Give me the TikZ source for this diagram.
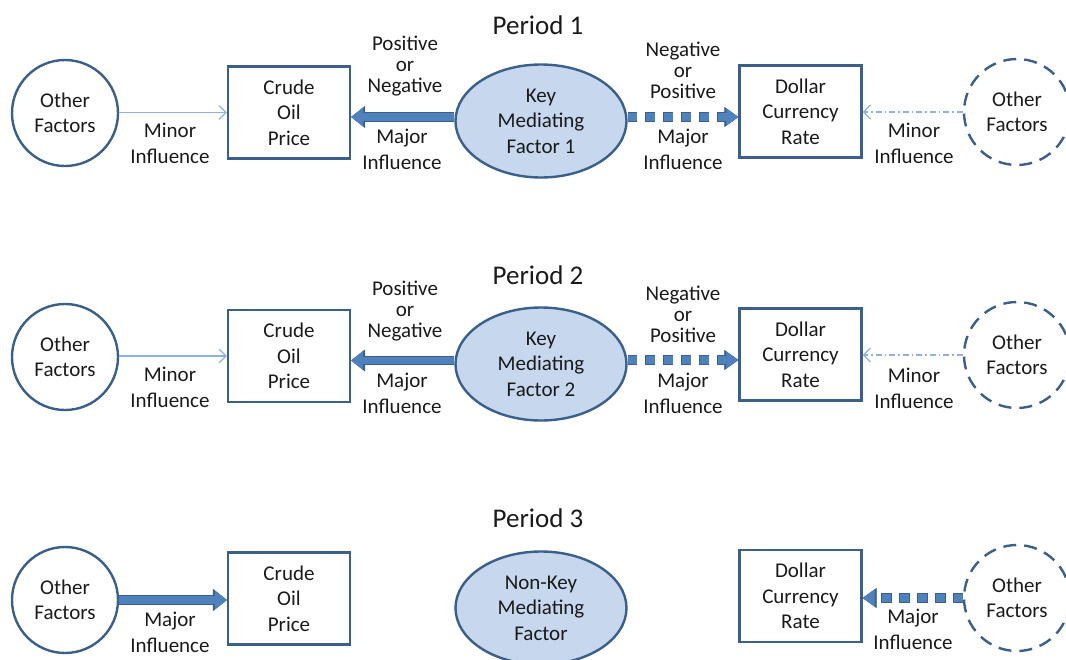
\documentclass[tikz,border=0pt]{standalone}
\usepackage{fontspec}
\setmainfont{Carlito}
\usetikzlibrary{arrows.meta,shapes.geometric,calc}
\definecolor{dk}{HTML}{3A5F8B}
\definecolor{mid}{HTML}{4F81BD}
\definecolor{lt}{HTML}{C6D7EE}
\definecolor{thin}{HTML}{8DB3E2}
\definecolor{txt}{HTML}{1A1A1A}
\begin{document}
\begin{tikzpicture}[x=1pt,y=-1pt,
 every node/.style={text=txt, font=\fontsize{21}{25.5}\selectfont, align=center, inner sep=0pt},
 factor/.style={circle, draw=dk, line width=2.4pt, minimum size=106pt},
 dfactor/.style={factor, dash pattern=on 13pt off 8pt},
 box/.style={rectangle, draw=dk, line width=2.2pt, minimum width=122pt, minimum height=92pt},
 med/.style={ellipse, draw=dk, fill=lt, line width=2.4pt, minimum width=171pt, minimum height=113pt},
 ptitle/.style={font=\fontsize{27}{30}\selectfont},
 lab/.style={font=\fontsize{21}{26}\selectfont},
 labs/.style={font=\fontsize{21}{21}\selectfont},
 minor/.style={draw=thin, line width=1.3pt, -{Straight Barb[length=7pt,width=14pt,line width=1.3pt]}},
 minordd/.style={minor, dash pattern=on 6pt off 3pt on 1.5pt off 3pt},
 major/.style={preaction={draw=dk, line width=9.5pt, -{Triangle[length=14pt,width=22pt,line width=0.5pt]}},
   draw=mid, line width=7.5pt, -{Triangle[length=12pt,width=19pt,line width=0.5pt]}},
 majord/.style={preaction={draw=dk, line width=9.5pt, dash pattern=on 10.5pt off 7.5pt, dash phase=0.75pt, -{Triangle[length=14pt,width=20pt,line width=0.5pt]}},
   draw=mid, line width=7.5pt, dash pattern=on 9pt off 9pt, -{Triangle[length=12pt,width=17pt,line width=0.5pt]}},
]
\useasboundingbox (0,0) rectangle (1066,659);

% ---------------- Period 1 ----------------
\node[ptitle] (t1) at (538,25) {Period 1};
\node[factor] (oa1) at (65,113) {Other\\Factors};
\node[box] (crude1) at (289,112.5) {Crude\\Oil\\Price};
\node[med] (key1) at (541,121) {Key\\Mediating\\Factor 1};
\node[box] (dollar1) at (800.5,111.5) {Dollar\\Currency\\Rate};
\node[dfactor] (ob1) at (1017,112) {Other\\Factors};
\draw[minor] (oa1.east |- crude1.west) -- (crude1.west);
\draw[major] ([yshift=-4.5pt]crude1.east -| key1.west) -- ([yshift=-4.5pt]crude1.east);
\draw[majord] ([yshift=-5.5pt]dollar1.west -| key1.east) -- ([yshift=-5.5pt]dollar1.west);
\draw[minordd] (ob1.west) -- (ob1.west -| dollar1.east);
\node[lab] (mi1a) at (170,143) {Minor\\Influence};
\node[labs] (pn1) at (405,66) {Positive\\or\\Negative};
\node[lab] (ma1a) at (402,149) {Major\\Influence};
\node[labs] (np1) at (683,70) {Negative\\or\\Positive};
\node[lab] (ma1b) at (683,149) {Major\\Influence};
\node[lab] (mi1b) at (914,143.5) {Minor\\Influence};

% ---------------- Period 2 ----------------
\node[ptitle] (t2) at (538,275) {Period 2};
\node[factor] (oa2) at (65,357) {Other\\Factors};
\node[box] (crude2) at (289,356) {Crude\\Oil\\Price};
\node[med] (key2) at (541,364) {Key\\Mediating\\Factor 2};
\node[box] (dollar2) at (800.5,354.5) {Dollar\\Currency\\Rate};
\node[dfactor] (ob2) at (1017,355) {Other\\Factors};
\draw[minor] (oa2.east |- crude2.west) -- (crude2.west);
\draw[major] ([yshift=-4.5pt]crude2.east -| key2.west) -- ([yshift=-4.5pt]crude2.east);
\draw[majord] ([yshift=-5.5pt]dollar2.west -| key2.east) -- ([yshift=-5.5pt]dollar2.west);
\draw[minordd] (ob2.west) -- (ob2.west -| dollar2.east);
\node[lab] (mi2a) at (170,387) {Minor\\Influence};
\node[labs] (pn2) at (405,311) {Positive\\or\\Negative};
\node[lab] (ma2a) at (402,393) {Major\\Influence};
\node[labs] (np2) at (683,314) {Negative\\or\\Positive};
\node[lab] (ma2b) at (683,393) {Major\\Influence};
\node[lab] (mi2b) at (914,388) {Minor\\Influence};

% ---------------- Period 3 ----------------
\node[ptitle] (t3) at (538,518) {Period 3};
\node[factor] (oa3) at (65,600) {Other\\Factors};
\node[box] (crude3) at (289,598.5) {Crude\\Oil\\Price};
\node[med] (key3) at (541,608) {Non-Key\\Mediating\\Factor};
\node[box] (dollar3) at (800.5,596) {Dollar\\Currency\\Rate};
\node[dfactor] (ob3) at (1017,598) {Other\\Factors};
\draw[major] (oa3.east) -- (oa3.east -| crude3.west);
\draw[majord] (ob3.west) -- (ob3.west -| dollar3.east);
\node[lab] (ma3a) at (170,632) {Major\\Influence};
\node[lab] (ma3b) at (913,629.5) {Major\\Influence};
\end{tikzpicture}
\end{document}
